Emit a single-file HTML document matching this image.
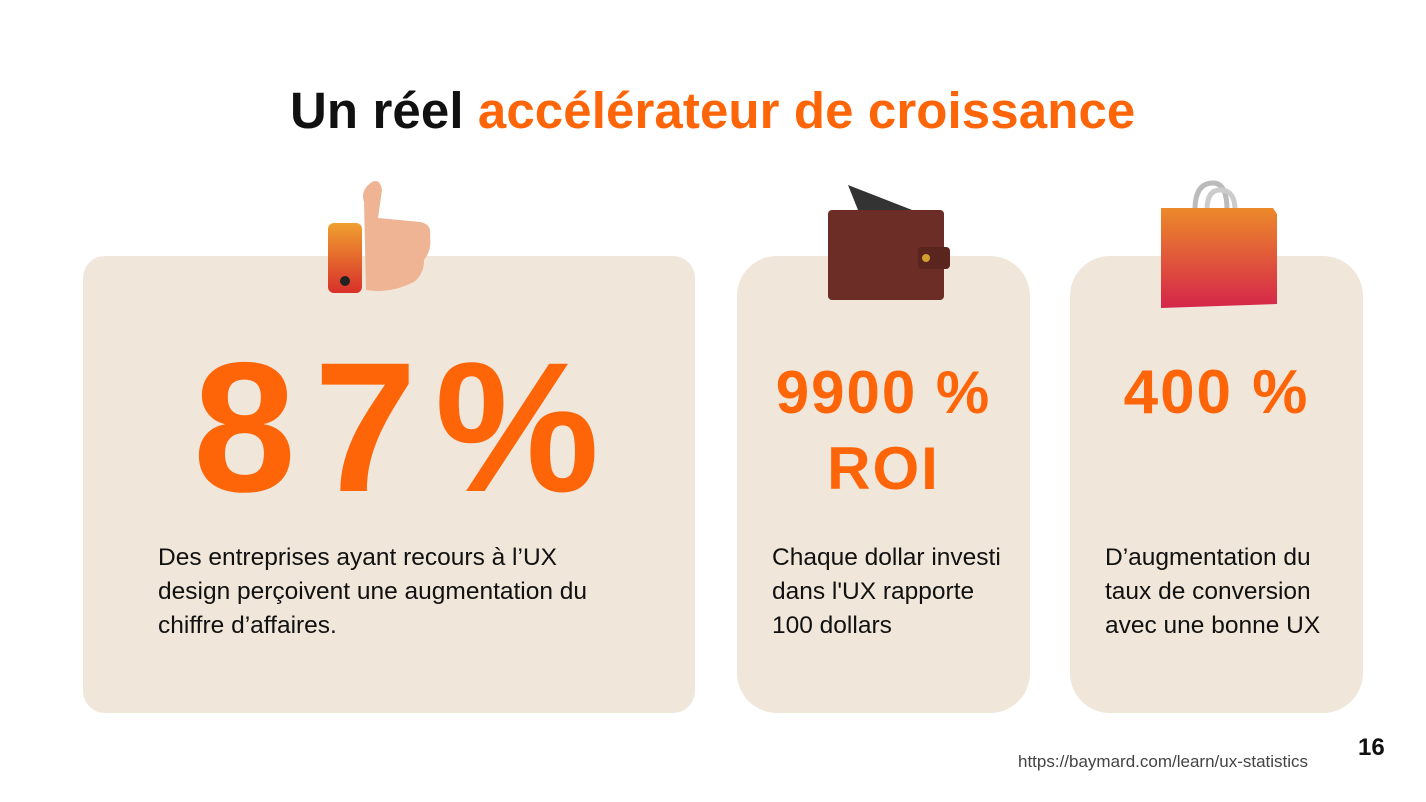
<!DOCTYPE html>
<html><head><meta charset="utf-8"><style>
body{margin:0;width:1426px;height:802px;background:#fff;position:relative;overflow:hidden;font-family:"Liberation Sans",sans-serif}
.card{position:absolute;background:#f0e6da}
.t{position:absolute;white-space:nowrap}
.or{color:#fe6508}
.big{font-weight:bold;color:#fe6508;position:absolute;white-space:nowrap;text-align:center}
.body{position:absolute;font-size:24.5px;line-height:34px;color:#111;white-space:nowrap}
</style></head><body>
<div class="t" style="left:290px;top:81px;font-size:51px;font-weight:bold;letter-spacing:0.1px;color:#111">Un réel <span class="or">accélérateur de croissance</span></div>

<div class="card" style="left:83px;top:256px;width:612px;height:457px;border-radius:22px"></div>
<div class="card" style="left:737px;top:256px;width:293px;height:457px;border-radius:40px"></div>
<div class="card" style="left:1070px;top:256px;width:293px;height:457px;border-radius:40px"></div>

<svg style="position:absolute;left:320px;top:170px" width="140" height="130">
<defs><linearGradient id="cuff" x1="0" y1="0" x2="0" y2="1"><stop offset="0" stop-color="#f0a030"/><stop offset="1" stop-color="#d8302a"/></linearGradient>
<linearGradient id="bag" x1="0" y1="0" x2="0" y2="1"><stop offset="0" stop-color="#ec8a2a"/><stop offset="1" stop-color="#d5264a"/></linearGradient></defs>
<path d="M44 32 Q40 20 52 12 Q60 8 62 20 L58 48 L100 52 Q112 54 110 66 Q112 80 104 90 Q104 104 94 112 Q70 124 46 120 Z" fill="#eeb494"/>
<rect x="8" y="53" width="34" height="70" rx="6" fill="url(#cuff)"/>
<circle cx="25" cy="111" r="5" fill="#222"/>
</svg>
<svg style="position:absolute;left:820px;top:175px" width="140" height="130">
<path d="M28 10 L105 40 L40 40 Z" fill="#333"/>
<rect x="8" y="35" width="116" height="90" rx="4" fill="#6b2d26"/>
<rect x="98" y="72" width="32" height="22" rx="4" fill="#5a241f"/>
<circle cx="106" cy="83" r="4" fill="#d2a030"/>
</svg>
<svg style="position:absolute;left:1155px;top:178px" width="130" height="135">
<path d="M40 32 Q40 5 58 5 Q72 5 72 32" fill="none" stroke="#bbb" stroke-width="5"/>
<path d="M52 32 Q52 12 65 12 Q80 12 80 32" fill="none" stroke="#ccc" stroke-width="5"/>
<path d="M6 30 L118 30 L122 36 L122 126 L6 130 Z" fill="url(#bag)"/>
</svg>

<div class="big" style="left:193px;top:322px;font-size:185px;letter-spacing:18px">87%</div>
<div class="big" style="left:737px;width:293px;top:355px;font-size:60px;line-height:76px;letter-spacing:2px">9900 %<br>ROI</div>
<div class="big" style="left:1070px;width:293px;top:355px;font-size:62px;line-height:76px;letter-spacing:2px">400 %</div>

<div class="body" style="left:158px;top:541px">Des entreprises ayant recours à l’UX<br>design perçoivent une augmentation du<br>chiffre d’affaires.</div>
<div class="body" style="left:772px;top:541px">Chaque dollar investi<br>dans l'UX rapporte<br>100 dollars</div>
<div class="body" style="left:1105px;top:541px">D’augmentation du<br>taux de conversion<br>avec une bonne UX</div>

<div class="t" style="left:1018px;top:752px;font-size:17px;color:#444">https://baymard.com/learn/ux-statistics</div>
<div class="t" style="left:1358px;top:734px;font-size:24px;font-weight:bold;color:#111">16</div>
</body></html>
